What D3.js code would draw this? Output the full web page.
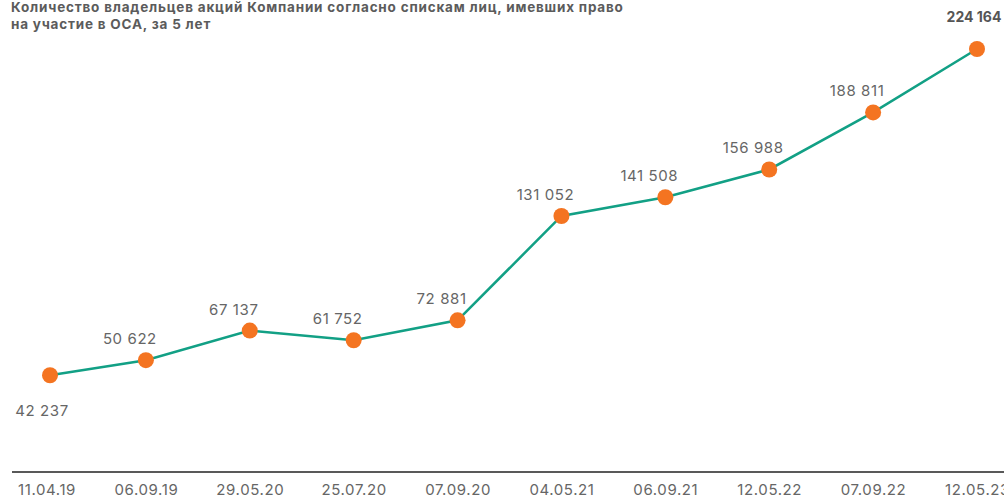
<!DOCTYPE html>
<html>
<head>
<meta charset="utf-8">
<script src="https://cdn.jsdelivr.net/npm/d3@7"></script>
<style>
  html, body { margin: 0; padding: 0; background: #fff; overflow: hidden; }
  svg { display: block; font-family: Inter, "Noto Sans", sans-serif; }
</style>
</head>
<body>
<svg id="chart" width="1004" height="499"></svg>
<script>
// Shareholder register dates (AGM record dates)
const dates = ["11.04.19", "06.09.19", "29.05.20", "25.07.20", "07.09.20",
               "04.05.21", "06.09.21", "12.05.22", "07.09.22", "12.05.23"];
// Number of shareholders on each date
const holders = [42237, 50622, 67137, 61752, 72881,
                 131052, 141508, 156988, 188811, 224164];

const titleLines = [
  "Количество владельцев акций Компании согласно спискам лиц, имевших право",
  "на участие в ОСА, за 5 лет"
];

const width = 1004, height = 499;
const svg = d3.select("#chart");

const x = d3.scalePoint()
  .domain(dates)
  .range([42, 977]);

const y = d3.scaleLinear()
  .domain([0, d3.max(holders)])
  .range([451, 49]);

const data = dates.map((d, i) => ({ date: d, value: holders[i], i }));
const last = data.length - 1;
// first marker sits a little inside the left edge
const px = d => x(d.date) + (d.i === 0 ? 8 : 0);

// Title
svg.append("g")
  .selectAll("text")
  .data(titleLines)
  .join("text")
  .attr("x", 11)
  .attr("y", (d, i) => 12 + i * 17)
  .attr("font-size", 13.5)
  .attr("letter-spacing", 0.8)
  .attr("font-weight", 700)
  .attr("fill", "#5b5b5b")
  .text(d => d);

// Baseline axis
const axis = d3.axisBottom(x).tickSize(0).tickPadding(12);
const gAxis = svg.append("g")
  .attr("transform", "translate(0,472)")
  .call(axis);
gAxis.select(".domain").remove();
gAxis.append("line")
  .attr("x1", 12).attr("x2", width)
  .attr("stroke", "#222").attr("stroke-width", 1.5);
gAxis.selectAll(".tick text")
  .attr("font-size", 15)
  .attr("letter-spacing", 0.6)
  .attr("fill", "#666")
  .attr("font-family", "Inter, 'Noto Sans', sans-serif");
gAxis.selectAll(".tick").filter((d, i) => i === 0)
  .attr("transform", `translate(${x(dates[0]) + 5},0)`);

// Series line
const line = d3.line()
  .x(px)
  .y(d => y(d.value));

svg.append("path")
  .datum(data)
  .attr("d", line)
  .attr("fill", "none")
  .attr("stroke", "#12a085")
  .attr("stroke-width", 2.5);

// Markers
svg.append("g")
  .selectAll("circle")
  .data(data)
  .join("circle")
  .attr("cx", px)
  .attr("cy", d => y(d.value))
  .attr("r", 8)
  .attr("fill", "#f47421");

// Value labels
const fmt = v => d3.format(",")(v).replace(/,/g, " ");
svg.append("g")
  .selectAll("text")
  .data(data)
  .join("text")
  .attr("x", d => d.i === 0 ? px(d) - 8 : d.i === last ? px(d) - 3 : px(d) - 16)
  .attr("y", d => d.i === 0 ? y(d.value) + 41 : d.i === last ? 22 : y(d.value) - 16)
  .attr("text-anchor", "middle")
  .attr("font-size", d => d.i === last ? 14 : 15)
  .attr("letter-spacing", d => d.i === last ? 0 : 0.6)
  .attr("font-weight", d => d.i === last ? 700 : 400)
  .attr("fill", d => d.i === last ? "#555" : "#666")
  .text(d => fmt(d.value));
</script>
</body>
</html>
